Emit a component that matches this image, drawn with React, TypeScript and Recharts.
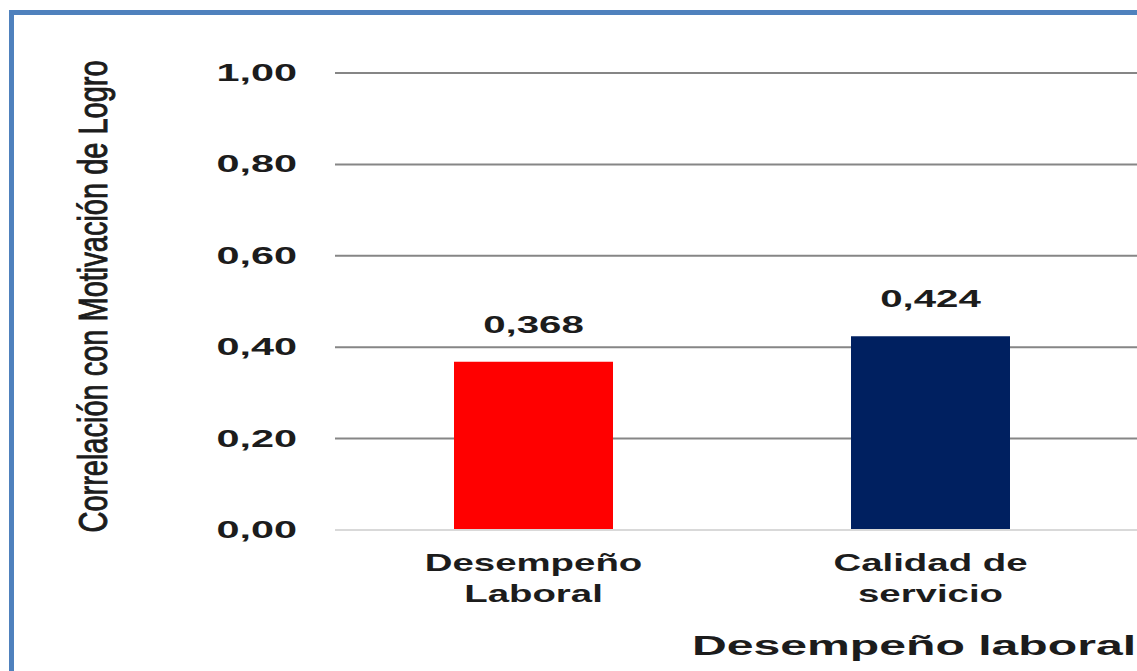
import React from 'react';
import { BarChart, Bar, XAxis, YAxis, CartesianGrid, Cell, LabelList, Label } from 'recharts';

const categories = ['Desempeño\nLaboral', 'Calidad de\nservicio'];
const correlations = [0.368, 0.424];
const barColors = ['#FF0000', '#002060'];
const yTicks = [0, 0.2, 0.4, 0.6, 0.8, 1];
const yTitle = 'Correlación con Motivación de Logro';
const xTitle = 'Desempeño laboral';

const data = categories.map((name, i) => ({ name, value: correlations[i] }));

const FONT = '"Liberation Sans", Arial, sans-serif';
const INK = '#1c1c1c';

const fmt = (v: number, digits: number) => v.toFixed(digits).replace('.', ',');

// horizontally stretched text, like the wide bold labels of the original sheet
const WideText = ({ x, y, size, scale, weight = 'bold', anchor = 'middle', children }: any) => (
  <text
    transform={`translate(${x},${y}) scale(${scale},1)`}
    textAnchor={anchor}
    fontSize={size}
    fontWeight={weight}
    fontFamily={FONT}
    fill={INK}
  >
    {children}
  </text>
);

const YTick = ({ x, y, payload }: any) => (
  <WideText x={x} y={y + 8} size={23} scale={1.8} anchor="end">
    {fmt(payload.value, 2)}
  </WideText>
);

const XTick = ({ x, y, payload }: any) => {
  const lines = String(payload.value).split('\n');
  return (
    <g>
      {lines.map((line, i) => (
        <WideText key={i} x={x} y={y + 35 + i * 31} size={24} scale={1.6}>
          {line}
        </WideText>
      ))}
    </g>
  );
};

const BarValue = ({ x, y, width, value }: any) => (
  <WideText x={x + width / 2} y={y - 29} size={23} scale={1.75}>
    {fmt(value, 3)}
  </WideText>
);

const XTitle = ({ viewBox }: any) => (
  <WideText x={viewBox.x + viewBox.width / 2} y={viewBox.y + 125} size={28} scale={1.72}>
    {xTitle}
  </WideText>
);

const YTitle = ({ viewBox }: any) => {
  const cx = viewBox.x + 107;
  const cy = viewBox.y + viewBox.height / 2 - 5;
  return (
    <text
      transform={`translate(${cx},${cy}) rotate(-90) scale(1,1.4)`}
      textAnchor="middle"
      fontSize={29}
      fontFamily={FONT}
      fill={INK}
      stroke={INK}
      strokeWidth={0.7}
    >
      {yTitle}
    </text>
  );
};

const App: React.FC = () => {
  return (
    <div
      style={{
        position: 'fixed',
        left: 0,
        top: 0,
        width: 1137,
        height: 671,
        overflow: 'hidden',
        background: '#ffffff',
      }}
    >
      <div
        style={{
          position: 'absolute',
          left: 9,
          top: 10,
          width: 2000,
          height: 1000,
          borderLeft: '5px solid #4F81BD',
          borderTop: '5px solid #4F81BD',
        }}
      />
      <div style={{ position: 'absolute', left: 0, top: 0 }}>
        <BarChart
          width={1493}
          height={671}
          data={data}
          margin={{ top: 73, right: 0, bottom: 0, left: 0 }}
          barSize={159}
        >
          <CartesianGrid horizontal vertical={false} stroke="#868686" strokeWidth={2} />
          <XAxis
            dataKey="name"
            height={141}
            padding={{ left: 0, right: 364 }}
            tickLine={false}
            tickMargin={0}
            axisLine={{ stroke: '#d9d9d9', strokeWidth: 2 }}
            tick={<XTick />}
            interval={0}
          >
            <Label content={<XTitle />} />
          </XAxis>
          <YAxis
            width={335}
            domain={[0, 1]}
            ticks={yTicks}
            tickLine={false}
            axisLine={false}
            tickMargin={32}
            tick={<YTick />}
          >
            <Label content={<YTitle />} />
          </YAxis>
          <Bar dataKey="value" isAnimationActive={false}>
            {data.map((_, i) => (
              <Cell key={`cell-${i}`} fill={barColors[i]} />
            ))}
            <LabelList dataKey="value" content={<BarValue />} />
          </Bar>
        </BarChart>
      </div>
    </div>
  );
};

export default App;
